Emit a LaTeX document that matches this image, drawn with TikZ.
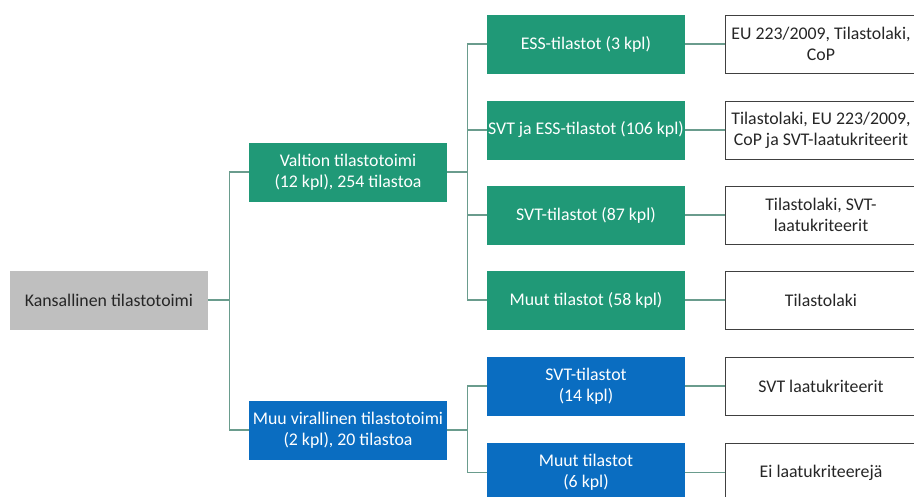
\documentclass[tikz,border=0pt]{standalone}
\usepackage{fontspec}
\setmainfont{Carlito}
\definecolor{tgreen}{HTML}{209977}
\definecolor{tblue}{HTML}{0A6DC1}
\definecolor{tgray}{HTML}{BFBFBF}
\definecolor{tline}{HTML}{6A9C8D}

\begin{document}
\begin{tikzpicture}
[x=1pt,y=-1pt,every node/.style={align=center,inner sep=0pt,font=\fontsize{17.8}{21}\selectfont}]
\tikzset{box/.style = {minimum width=198pt,minimum height=59pt}}
\tikzset{greenbox/.style = {box,fill=tgreen,text=white}}
\tikzset{bluebox/.style = {box,fill=tblue,text=white}}
\tikzset{rulebox/.style = {minimum width=192pt,minimum height=58pt,draw=black!75,line width=1pt,fill=white,text=black!85}}
\tikzset{conn/.style = {draw=tline,line width=1.1pt}}
\useasboundingbox (0,0) rectangle (914,496);
  \node[box,fill=tgray,text=black!85] (root) at (109,300){Kansallinen tilastotoimi};
  \node[greenbox] (val) at (348,172){Valtion tilastotoimi\\(12 kpl), 254 tilastoa};
  \node[bluebox] (muu) at (348,430){Muu virallinen tilastotoimi\\(2 kpl), 20 tilastoa};
  \node[greenbox] (ess) at (586,44){ESS-tilastot (3 kpl)};
  \node[greenbox] (svtess) at (586,130){SVT ja ESS-tilastot (106 kpl)};
  \node[greenbox] (svt) at (586,215){SVT-tilastot (87 kpl)};
  \node[greenbox] (muut) at (586,300){Muut tilastot (58 kpl)};
  \node[bluebox] (msvt) at (586,386){SVT-tilastot\\(14 kpl)};
  \node[bluebox] (mmuut) at (586,472.5){Muut tilastot\\(6 kpl)};
  \node[rulebox] (r1) at (821,44){EU 223/2009, Tilastolaki,\\CoP};
  \node[rulebox] (r2) at (821,130){Tilastolaki, EU 223/2009,\\CoP ja SVT-laatukriteerit};
  \node[rulebox] (r3) at (821,215){Tilastolaki, SVT-\\laatukriteerit};
  \node[rulebox] (r4) at (821,300){Tilastolaki};
  \node[rulebox] (r5) at (821,386){SVT laatukriteerit};
  \node[rulebox] (r6) at (821,472.5){Ei laatukriteerejä};
% tree
\foreach \a/\b in {root/val,root/muu}
  \draw[conn] (\a.east) -- ++(21,0) |- (\b.west);
\foreach \a/\b in {val/ess,val/svtess,val/svt,val/muut,muu/msvt,muu/mmuut}
  \draw[conn] (\a.east) -- ++(20,0) |- (\b.west);
\foreach \a/\b in {ess/r1,svtess/r2,svt/r3,muut/r4,msvt/r5,mmuut/r6}
  \draw[conn] (\a) -- (\b);
\end{tikzpicture}
\end{document}
